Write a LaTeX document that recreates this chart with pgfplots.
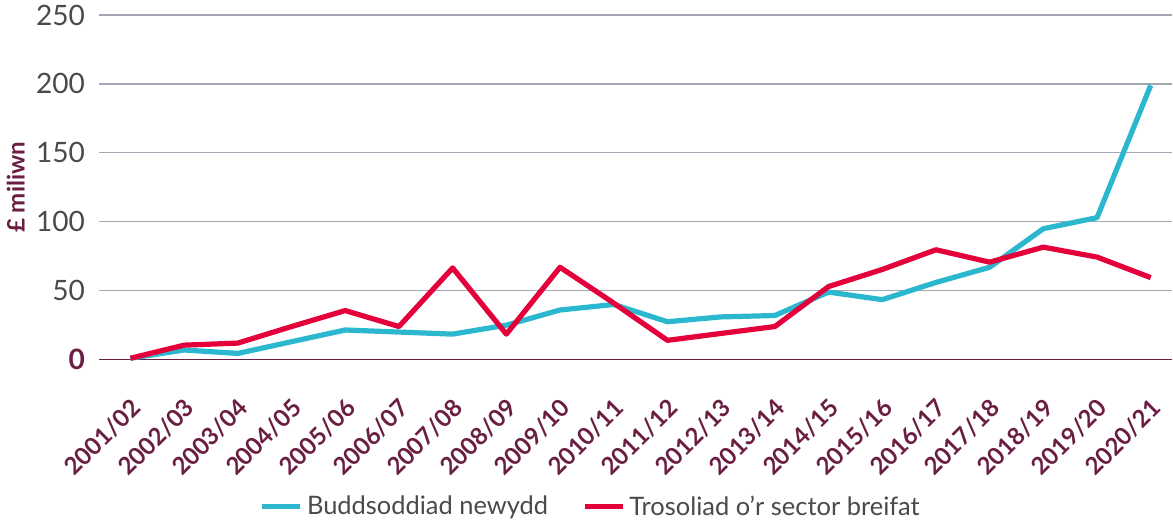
\documentclass[border=0pt]{standalone}
\usepackage{fontspec}
\setmainfont{Lato}
\usepackage{pgfplots}
\pgfplotsset{compat=1.18}
\definecolor{cyanline}{HTML}{2BB8CF}
\definecolor{redline}{HTML}{E4003B}
\definecolor{maroon}{HTML}{6A1E42}
\definecolor{gridgray}{HTML}{A3A7B3}
\definecolor{txtgray}{HTML}{4A4A4A}
\begin{document}
\begin{tikzpicture}
\begin{axis}[
  scale only axis,
  width=535.5pt, height=172pt,
  xmin=-0.58, xmax=19.4,
  ymin=0, ymax=250,
  axis x line*=bottom,
  axis y line*=left,
  y axis line style={draw=none},
  x axis line style={maroon, line width=0.8pt, -},
  ytick={0,50,100,150,200,250},
  yticklabels={\textbf{\color{maroon}0},50,100,150,200,250},
  y tick label style={font=\fontsize{14}{14}\selectfont, text=txtgray, inner sep=0pt, xshift=-7pt},
  xtick={0,...,19},
  xticklabels={2001/02,2002/03,2003/04,2004/05,2005/06,2006/07,2007/08,2008/09,2009/10,2010/11,2011/12,2012/13,2013/14,2014/15,2015/16,2016/17,2017/18,2018/19,2019/20,2020/21},
  xticklabel shift=22pt,
  x tick label style={inner sep=0pt, xshift=3pt, rotate=45, anchor=east,
    font=\bfseries\fontsize{12}{12}\selectfont, text=maroon},
  ymajorgrids,
  grid style={gridgray, line width=0.6pt},
  major tick length=0pt,
  ylabel={\textbf{£ miliwn}},
  ylabel style={at={(axis description cs:-0.078,0.5)}, anchor=center, text=maroon,
    font=\fontsize{12}{12}\selectfont},
  legend style={at={(0.459,-0.427)}, anchor=center, draw=none, legend columns=2,
    font=\fontsize{12.7}{12.7}\selectfont, text=txtgray,
    /tikz/every even column/.append style={column sep=15pt}},
  legend image code/.code={\draw[#1, line width=2.6pt] (0pt,0pt) -- (19pt,0pt);},
  clip=false,
]
% a little room above the top grid line, as in the reference
\path (rel axis cs:0,1) ++(0,7.5pt);
\addplot[cyanline, line width=2.6pt, line join=round] coordinates {
(0,1) (1,7) (2,4.5) (3,13) (4,21.5) (5,20) (6,18.5) (7,25) (8,36) (9,40)
(10,27.5) (11,31) (12,32) (13,49) (14,43.5) (15,56) (16,67) (17,95) (18,103) (19,199)};
\addlegendentry{Buddsoddiad newydd}
\addplot[redline, line width=2.6pt, line join=round] coordinates {
(0,1) (1,10.5) (2,12) (3,24) (4,35.6) (5,24) (6,66.5) (7,18.5) (8,67) (9,41)
(10,14) (11,19) (12,24) (13,53) (14,65.4) (15,79.7) (16,70.7) (17,81.6) (18,74.4) (19,59.5)};
\addlegendentry{Trosoliad o'r sector breifat}
\end{axis}
\end{tikzpicture}
\end{document}
